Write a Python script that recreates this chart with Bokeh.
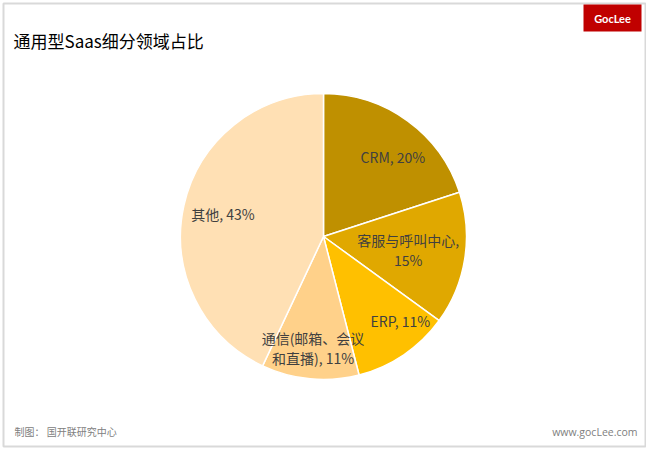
import math
from bokeh.plotting import figure
from bokeh.models import Range1d, ColumnDataSource
from bokeh.core.properties import value
from bokeh.embed import file_html
from bokeh.resources import INLINE

title = "通用型Saas细分领域占比"
categories = ["CRM", "客服与呼叫中心", "ERP", "通信(邮箱、会议和直播)", "其他"]
shares = [20, 15, 11, 11, 43]
label_lines = [["CRM, 20%"], ["客服与呼叫中心,", "15%"], ["ERP, 11%"], ["通信(邮箱、会议", "和直播), 11%"], ["其他, 43%"]]
colors = ["#BF9000", "#E0A800", "#FFC000", "#FFD18A", "#FFE0B4"]
source_text = "制图：  国开联研究中心"
site_text = "www.gocLee.com"
logo_text = "GocLee"

W, H = 646, 448
p = figure(width=W, height=H, output_backend="svg", toolbar_location=None,
           x_range=Range1d(0, W), y_range=Range1d(0, H), min_border=0)
p.axis.visible = False
p.grid.visible = False
p.outline_line_color = None
p.background_fill_color = "white"
p.border_fill_color = "white"

def px(x):
    return x

def py(y):
    return H - y

# outer frame
p.quad(left=px(3), right=px(645), top=py(3), bottom=py(446), fill_color=None,
       line_color="#D9D9D9", line_width=2)

cx, cy, r = px(323), py(236), 143
total = sum(shares)
starts, ends = [], []
cum = 0
for s in shares:
    starts.append(math.pi / 2 - 2 * math.pi * cum / total)
    cum += s
    ends.append(math.pi / 2 - 2 * math.pi * cum / total)

src = ColumnDataSource(dict(start=starts, end=ends, color=colors, cat=categories))
p.wedge(x=cx, y=cy, radius=r, start_angle="start", end_angle="end", direction="clock",
        fill_color="color", line_color="white", line_width=1.5, source=src)

# label positions: polar placement along mid-angle
label_radii = [0.74, 0.60, 0.80, 0.78, 0.72]
label_turn = [-5, 0, 8, 0, 0]
lx, ly, lt = [], [], []
for i, lines in enumerate(label_lines):
    mid = (starts[i] + ends[i]) / 2 + math.radians(label_turn[i])
    rr = r * label_radii[i]
    x0 = cx + rr * math.cos(mid)
    y0 = cy + rr * math.sin(mid)
    n = len(lines)
    for j, t in enumerate(lines):
        lx.append(x0)
        ly.append(y0 + (n - 1) * 10 - j * 20)
        lt.append(t)
p.text(x=lx, y=ly, text=lt, text_font=value("Noto Sans CJK SC"), text_font_size="14px",
       text_color="#404040", text_align="center", text_baseline="middle")

p.text(x=[px(13)], y=[py(40)], text=[title], text_font=value("Noto Sans CJK SC"),
       text_font_size="17px", text_color="#000000", text_baseline="middle")

p.quad(left=px(583), right=px(641), top=py(4), bottom=py(31), fill_color="#C00000", line_color=None)
p.text(x=[px(612)], y=[py(17.5)], text=[logo_text], text_font=value("Lato"), text_font_style="bold",
       text_font_size="11px", text_color="white", text_align="center", text_baseline="middle")

p.text(x=[px(14)], y=[py(431)], text=[source_text], text_font=value("Noto Sans CJK SC"),
       text_font_size="10px", text_color="#808080", text_baseline="middle")
p.text(x=[px(637)], y=[py(431)], text=[site_text], text_font=value("Open Sans"),
       text_font_size="10.5px", text_color="#808080", text_align="right", text_baseline="middle")

open("out.html", "w").write(file_html(p, INLINE))
